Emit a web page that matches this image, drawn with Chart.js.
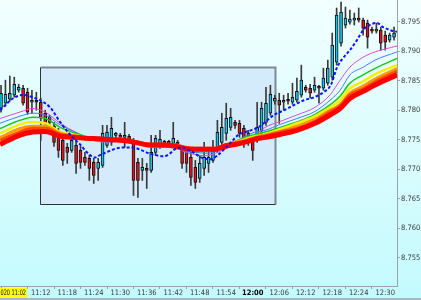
<!DOCTYPE html>
<html>
<head>
<meta charset="utf-8">
<script src="https://cdn.jsdelivr.net/npm/chart.js@4.4.0/dist/chart.umd.min.js"></script>
<style>
  html, body { margin: 0; padding: 0; }
  body { width: 421px; height: 300px; overflow: hidden; background: linear-gradient(to bottom, #f2ffff 0%, #c3fafd 100%); }
  #wrap { position: relative; width: 421px; height: 300px; }
</style>
</head>
<body>
<div id="wrap"><canvas id="chart" width="421" height="300"></canvas></div>
<script>
// one-minute candles, 11:03 .. 12:32
const opens = [8.78034, 8.78119, 8.78187, 8.78255, 8.78340, 8.78374, 8.78306, 8.78136, 8.78153, 8.78136,
  8.77949, 8.77881, 8.77728, 8.77609, 8.77490, 8.77371, 8.77320, 8.77405, 8.77320, 8.77201,
  8.77184, 8.77116, 8.77014, 8.77065, 8.77405, 8.77456, 8.77575, 8.77558, 8.77541, 8.77558,
  8.77456, 8.77116, 8.76980, 8.77014, 8.76980, 8.77286, 8.77405, 8.77439, 8.77456, 8.77439,
  8.77456, 8.77354, 8.77320, 8.77201, 8.77031, 8.76844, 8.77014, 8.77099, 8.77150, 8.77320,
  8.77456, 8.77609, 8.77711, 8.77796, 8.77779, 8.77694, 8.77609, 8.77524, 8.77490, 8.77660,
  8.77796, 8.77949, 8.78153, 8.78170, 8.78136, 8.78170, 8.78136, 8.78170, 8.78255, 8.78391,
  8.78374, 8.78340, 8.78391, 8.78374, 8.78459, 8.78561, 8.78816, 8.79139, 8.79445, 8.79496,
  8.79530, 8.79547, 8.79530, 8.79479, 8.79360, 8.79343, 8.79360, 8.79275, 8.79190, 8.79241];
const highs = [8.78425, 8.78510, 8.78578, 8.78561, 8.78442, 8.78425, 8.78374, 8.78340, 8.78306, 8.78204,
  8.78000, 8.77915, 8.77796, 8.77694, 8.77575, 8.77439, 8.77558, 8.77490, 8.77388, 8.77286,
  8.77235, 8.77184, 8.77184, 8.77745, 8.77745, 8.77881, 8.77626, 8.77609, 8.77796, 8.77592,
  8.77524, 8.77184, 8.77184, 8.77099, 8.77575, 8.77575, 8.77660, 8.77490, 8.77490, 8.77796,
  8.77490, 8.77405, 8.77371, 8.77286, 8.77150, 8.77235, 8.77456, 8.77371, 8.77490, 8.77830,
  8.77949, 8.78119, 8.78034, 8.77830, 8.77830, 8.77745, 8.77660, 8.77575, 8.78136, 8.78136,
  8.78391, 8.78425, 8.78255, 8.78289, 8.78255, 8.78289, 8.78459, 8.78544, 8.78765, 8.78425,
  8.78442, 8.78561, 8.78425, 8.78714, 8.78850, 8.79309, 8.79734, 8.79836, 8.79751, 8.79700,
  8.79649, 8.79734, 8.79564, 8.79530, 8.79411, 8.79479, 8.79411, 8.79343, 8.79309, 8.79411];
const lows = [8.77966, 8.78068, 8.78153, 8.78221, 8.78306, 8.78085, 8.77932, 8.77949, 8.78000, 8.77490,
  8.77694, 8.77711, 8.77388, 8.77201, 8.77065, 8.77099, 8.77286, 8.76929, 8.77014, 8.77065,
  8.76810, 8.76759, 8.76810, 8.77031, 8.77371, 8.77405, 8.77524, 8.77490, 8.77371, 8.77456,
  8.76555, 8.76521, 8.76810, 8.76674, 8.76946, 8.77235, 8.77354, 8.77388, 8.77371, 8.77405,
  8.77354, 8.77014, 8.76946, 8.76725, 8.76674, 8.76776, 8.76895, 8.76946, 8.77116, 8.77286,
  8.77405, 8.77490, 8.77660, 8.77694, 8.77541, 8.77371, 8.77405, 8.77150, 8.77456, 8.77609,
  8.77745, 8.77915, 8.78102, 8.77779, 8.78000, 8.78102, 8.78102, 8.78136, 8.78221, 8.78306,
  8.78204, 8.78306, 8.78119, 8.78340, 8.78425, 8.78510, 8.78765, 8.79088, 8.79394, 8.79462,
  8.79445, 8.79496, 8.79275, 8.79054, 8.79309, 8.79309, 8.79020, 8.79020, 8.79156, 8.79190];
const closes = [8.78289, 8.78272, 8.78289, 8.78442, 8.78391, 8.78119, 8.77966, 8.78153, 8.78136, 8.77864,
  8.77779, 8.77796, 8.77456, 8.77320, 8.77150, 8.77286, 8.77490, 8.77099, 8.77116, 8.77116,
  8.77014, 8.76895, 8.77116, 8.77609, 8.77626, 8.77694, 8.77592, 8.77541, 8.77558, 8.77507,
  8.76810, 8.76810, 8.77031, 8.76980, 8.77286, 8.77524, 8.77507, 8.77456, 8.77439, 8.77524,
  8.77405, 8.77099, 8.77099, 8.76861, 8.76776, 8.77099, 8.77201, 8.77201, 8.77320, 8.77626,
  8.77711, 8.77864, 8.77881, 8.77745, 8.77609, 8.77524, 8.77456, 8.77320, 8.77711, 8.78034,
  8.78119, 8.78272, 8.78204, 8.78085, 8.78170, 8.78153, 8.78221, 8.78323, 8.78510, 8.78340,
  8.78289, 8.78425, 8.78374, 8.78544, 8.78714, 8.79105, 8.79615, 8.79666, 8.79564, 8.79547,
  8.79547, 8.79530, 8.79394, 8.79241, 8.79343, 8.79360, 8.79139, 8.79156, 8.79275, 8.79309];

// moving averages, read at these bar positions
const maX = [-0.2, 4.3, 7.2, 10, 13.4, 16.8, 20.8, 23.6, 26.9, 30.1, 33.7, 37.1, 39.4, 41.7, 43.9, 46.2,
  48.5, 50.7, 53, 55.3, 57.5, 59.8, 63.2, 67, 71.1, 74.5, 76.8, 79, 82, 84.7, 89.7];
const maRed = [8.7742, 8.7758, 8.7763, 8.7764, 8.7756, 8.7754, 8.7752, 8.7751, 8.7749, 8.7746, 8.7741, 8.7741,
  8.7739, 8.7735, 8.7734, 8.7734, 8.7734, 8.7739, 8.7742, 8.7746, 8.7751, 8.7754, 8.7759, 8.7766, 8.7778,
  8.7792, 8.7803, 8.7820, 8.7832, 8.7843, 8.7860];
const maOrangeRed = [8.7749, 8.7763, 8.7769, 8.7769, 8.7759, 8.7756, 8.7752, 8.7751, 8.7751, 8.7747, 8.7742,
  8.7742, 8.7741, 8.7737, 8.7735, 8.7735, 8.7735, 8.7741, 8.7744, 8.7747, 8.7752, 8.7756, 8.7763, 8.7769,
  8.7781, 8.7797, 8.7807, 8.7826, 8.7836, 8.7848, 8.7866];
const maOrange = [8.7754, 8.7769, 8.7773, 8.7773, 8.7761, 8.7756, 8.7752, 8.7751, 8.7751, 8.7747, 8.7742,
  8.7742, 8.7741, 8.7735, 8.7734, 8.7734, 8.7735, 8.7741, 8.7746, 8.7749, 8.7754, 8.7758, 8.7764, 8.7773,
  8.7785, 8.7800, 8.7810, 8.7829, 8.7841, 8.7853, 8.7871];
const maYellow = [8.7761, 8.7776, 8.7780, 8.7778, 8.7763, 8.7758, 8.7752, 8.7751, 8.7751, 8.7747, 8.7742,
  8.7742, 8.7741, 8.7734, 8.7732, 8.7732, 8.7735, 8.7741, 8.7746, 8.7751, 8.7756, 8.7759, 8.7768, 8.7778,
  8.7790, 8.7805, 8.7817, 8.7837, 8.7849, 8.7861, 8.7877];
const maGreen = [8.7769, 8.7783, 8.7788, 8.7786, 8.7771, 8.7761, 8.7752, 8.7749, 8.7751, 8.7747, 8.7742,
  8.7742, 8.7741, 8.7732, 8.7730, 8.7730, 8.7734, 8.7741, 8.7747, 8.7754, 8.7759, 8.7763, 8.7771, 8.7780,
  8.7793, 8.7809, 8.7824, 8.7846, 8.7860, 8.7871, 8.7888];
const maBlue = [8.7778, 8.7790, 8.7795, 8.7792, 8.7775, 8.7763, 8.7751, 8.7747, 8.7749, 8.7747, 8.7739,
  8.7739, 8.7739, 8.7730, 8.7729, 8.7727, 8.7730, 8.7739, 8.7747, 8.7756, 8.7763, 8.7766, 8.7776, 8.7786,
  8.7798, 8.7817, 8.7834, 8.7860, 8.7873, 8.7885, 8.7899];
const maViolet = [8.7786, 8.7797, 8.7803, 8.7797, 8.7778, 8.7763, 8.7749, 8.7746, 8.7747, 8.7746, 8.7737,
  8.7737, 8.7737, 8.7729, 8.7725, 8.7723, 8.7727, 8.7734, 8.7742, 8.7752, 8.7758, 8.7771, 8.7781, 8.7792,
  8.7805, 8.7826, 8.7851, 8.7873, 8.7890, 8.7899, 8.7909];

// fast average (blue dashed)
const fastX = [-0.2, 2.7, 5, 7.2, 8.8, 11.1, 13.4, 15.6, 17.9, 19.7, 21.3, 22.4, 24, 26, 27.9, 29.7, 31.9,
  33.5, 34.9, 36.9, 38.3, 39.4, 41, 42.6, 43.9, 45.3, 47.6, 49.1, 50.7, 52.1, 53.7, 55.3, 56.6, 58.2, 59.8,
  61.8, 64.1, 66.4, 68.6, 70.9, 73.1, 74.7, 76.1, 77.4, 79, 80.6, 82, 83.6, 85.1, 86.5, 88.1, 89.7];
const fastY = [8.7800, 8.7820, 8.7826, 8.7822, 8.7817, 8.7805, 8.7780, 8.7759, 8.7742, 8.7727, 8.7720, 8.7724,
  8.7729, 8.7735, 8.7737, 8.7737, 8.7732, 8.7727, 8.7724, 8.7722, 8.7727, 8.7734, 8.7737, 8.7732, 8.7727,
  8.7720, 8.7717, 8.7724, 8.7735, 8.7746, 8.7758, 8.7763, 8.7766, 8.7771, 8.7780, 8.7792, 8.7800, 8.7809,
  8.7817, 8.7822, 8.7831, 8.7843, 8.7873, 8.7888, 8.7902, 8.7919, 8.7936, 8.7945, 8.7948, 8.7941, 8.7936,
  8.7933];

const timeTickPos = [3, 9, 15, 21, 27, 33, 39, 45, 51, 57, 63, 69, 75, 81, 87];
const timeTickText = ['', '11:12', '11:18', '11:24', '11:30', '11:36', '11:42', '11:48', '11:54', '12:00',
  '12:06', '12:12', '12:18', '12:24', '12:30'];
const priceTicks = [8.755, 8.760, 8.765, 8.770, 8.775, 8.780, 8.785, 8.790, 8.795];
const cursorTag = '020 11:02';

// highlighted zone (bar index / price)
const zone = { x0: 8.83, x1: 62.05, top: 8.78731, bottom: 8.76419 };

const FONT = "'DejaVu Sans Condensed', 'Liberation Sans', sans-serif";
const bull = '#14c6ea';
const bear = '#e8121a';

const idx = opens.map((_, i) => i);
const wickData = idx.map(i => ({ x: i, y: [lows[i], highs[i]] }));
const bodyData = idx.map(i => ({ x: i, y: [opens[i], closes[i]] }));
const bodyColors = idx.map(i => closes[i] >= opens[i] ? bull : bear);
const pts = (xs, ys) => xs.map((x, i) => ({ x: x, y: ys[i] }));

function maLine(data, color, width, order) {
  return {
    type: 'line', data: pts(maX, data), borderColor: color, borderWidth: width,
    pointRadius: 0, cubicInterpolationMode: 'monotone', order: order
  };
}

const zonePlugin = {
  id: 'zone',
  beforeDatasetsDraw(chart) {
    const { ctx, scales: { x, y } } = chart;
    const l = Math.round(x.getPixelForValue(zone.x0)) + 0.5;
    const r = Math.round(x.getPixelForValue(zone.x1)) + 0.5;
    const t = Math.round(y.getPixelForValue(zone.top)) + 0.5;
    const b = Math.round(y.getPixelForValue(zone.bottom)) + 0.5;
    ctx.save();
    ctx.fillStyle = '#d4ebfb';
    ctx.fillRect(l, t, r - l, b - t);
    ctx.lineWidth = 2;
    ctx.strokeStyle = '#7d8a93';
    ctx.beginPath();
    ctx.moveTo(l, t); ctx.lineTo(r, t); ctx.lineTo(r, b);
    ctx.stroke();
    ctx.lineWidth = 1;
    ctx.strokeStyle = '#2e3236';
    ctx.beginPath();
    ctx.moveTo(l, t); ctx.lineTo(l, b); ctx.lineTo(r, b);
    ctx.stroke();
    ctx.restore();
  },
  afterDraw(chart) {
    const ctx = chart.ctx;
    ctx.save();
    ctx.fillStyle = '#ffff00';
    ctx.fillRect(0, 288, 27, 10);
    ctx.fillStyle = '#000';
    ctx.font = '7.5px ' + FONT;
    ctx.textBaseline = 'middle';
    // squeeze the cursor tag so it fits its box like the terminal font
    const w = ctx.measureText(cursorTag).width;
    ctx.translate(0.5, 0);
    ctx.scale(Math.min(1, 25.5 / w), 1);
    ctx.fillText(cursorTag, 0, 293.5);
    ctx.restore();
    ctx.save();
    ctx.fillStyle = '#a8b8c2';
    ctx.fillRect(0, 298, 421, 2);
    ctx.restore();
  }
};

new Chart(document.getElementById('chart'), {
  type: 'bar',
  data: {
    datasets: [
      { type: 'line', data: pts(fastX, fastY), borderColor: '#0a14ff', borderWidth: 2, borderDash: [3, 2],
        pointRadius: 0, cubicInterpolationMode: 'monotone', order: 1 },
      maLine(maRed, '#ff0000', 5, 2),
      maLine(maOrangeRed, '#ff4a00', 3.5, 3),
      maLine(maOrange, '#ff9a00', 3, 4),
      maLine(maYellow, '#f4f000', 2.5, 5),
      maLine(maGreen, '#1cc41c', 1.5, 6),
      maLine(maBlue, '#4a78ff', 1, 7),
      maLine(maViolet, '#d84ad8', 1, 8),
      { data: bodyData, backgroundColor: bodyColors, borderColor: '#101010', borderWidth: 1,
        borderSkipped: false, barThickness: 3, minBarLength: 2, grouped: false, order: 9 },
      { data: wickData, backgroundColor: '#3a3a3a', barThickness: 1, grouped: false, order: 10 }
    ]
  },
  options: {
    responsive: false,
    animation: false,
    events: [],
    layout: { padding: 0 },
    plugins: { legend: { display: false }, tooltip: { enabled: false } },
    scales: {
      x: {
        type: 'linear', offset: false, min: -0.23, max: 89.67,
        afterBuildTicks: s => { s.ticks = timeTickPos.map(v => ({ value: v })); },
        afterFit: s => { s.height = 14; s.paddingLeft = 0; s.paddingRight = 0; },
        grid: { drawOnChartArea: false, tickLength: 3, color: '#9aa4aa' },
        border: { display: true, color: '#9aa4aa' },
        ticks: {
          autoSkip: false, maxRotation: 0, padding: 0,
          callback: (v, i) => timeTickText[i],
          font: c => ({ family: FONT, size: 7.5, weight: c.tick && c.tick.value === 57 ? 'bold' : 'normal' }),
          color: c => c.tick && c.tick.value === 57 ? '#000' : '#3a3a3a'
        }
      },
      y: {
        position: 'right', min: 8.7502, max: 8.7987,
        afterBuildTicks: s => { s.ticks = priceTicks.map(v => ({ value: v })); },
        afterFit: s => { s.width = 24; s.paddingTop = 0; s.paddingBottom = 0; },
        grid: { drawOnChartArea: false, tickLength: 3, color: '#9aa4aa' },
        border: { display: true, color: '#9aa4aa' },
        ticks: {
          padding: 1, color: '#3a3a3a', font: { family: FONT, size: 7.5 },
          callback: v => v.toFixed(3)
        }
      }
    }
  },
  plugins: [zonePlugin]
});
</script>
</body>
</html>
